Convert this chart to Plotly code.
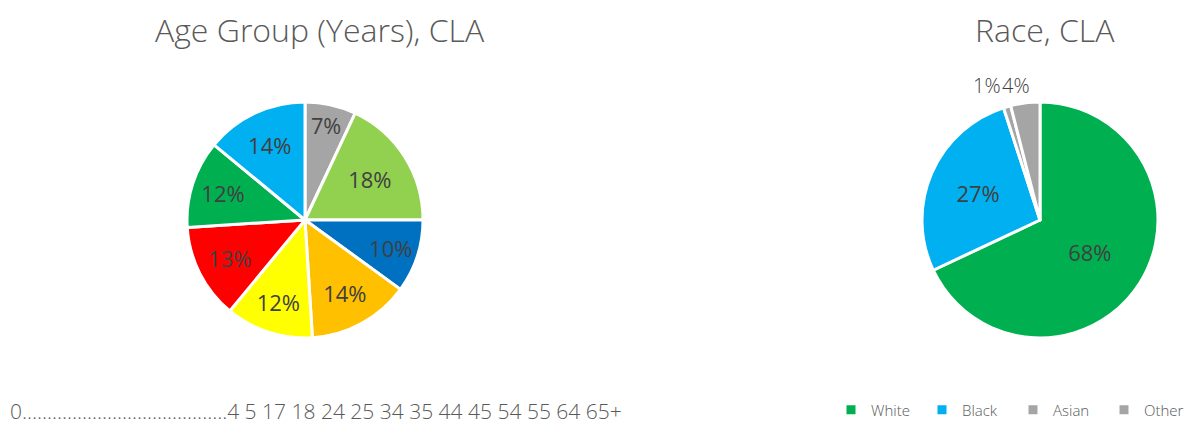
import math
import plotly.graph_objects as go

# ---- data ----
age_groups = ["0-4", "5-17", "18-24", "25-34", "35-44", "45-54", "55-64", "65+"]
age_values = [7, 18, 10, 14, 12, 13, 12, 14]
age_colors = ["#A5A5A5", "#92D050", "#0070C0", "#FFC000", "#FFFF00", "#FF0000", "#00B050", "#00B0F0"]
age_legend_text = "0" + "." * 41 + "4 5 17 18 24 25 34 35 44 45 54 55 64 65+"

race_groups = ["White", "Black", "Asian", "Other"]
race_values = [68, 27, 1, 4]
race_colors = ["#00B050", "#00B0F0", "#A5A5A5", "#A5A5A5"]
race_small = [False, False, True, True]   # labels drawn above the pie

title_age = "Age Group (Years), CLA"
title_race = "Race, CLA"

W, H = 1199, 424
OX, OY = 8, 8          # page body margin of the html page
FONT = "Open Sans"
TXT = "#404040"
TITLE_C = "#595959"
R = 118


def px_x(x):           # page x -> paper fraction
    return (x - OX) / W


def px_y(y):           # page y (from top) -> paper fraction
    return 1 - (y - OY) / H


AGE_C = (305, 220)     # page pixel centre
RACE_C = (1040, 220)


def dom(c):
    return dict(x=[px_x(c[0] - R), px_x(c[0] + R)], y=[px_y(c[1] + R), px_y(c[1] - R)])


fig = go.Figure()

fig.add_trace(go.Pie(
    labels=age_groups, values=age_values,
    marker=dict(colors=age_colors, line=dict(color="white", width=3)),
    sort=False, direction="clockwise", rotation=0,
    texttemplate="%{percent:.0%}",
    textposition="inside", insidetextorientation="horizontal",
    insidetextfont=dict(family=FONT, size=22, color=TXT),
    domain=dom(AGE_C),
    showlegend=False, hoverinfo="label+percent",
))

race_total = sum(race_values)
race_tt = ["" if s else "%{percent:.0%}" for s in race_small]

fig.add_trace(go.Pie(
    labels=race_groups, values=race_values,
    marker=dict(colors=race_colors, line=dict(color="white", width=3)),
    sort=False, direction="clockwise", rotation=0,
    texttemplate=race_tt,
    textposition="inside", insidetextorientation="horizontal",
    insidetextfont=dict(family=FONT, size=22, color=TXT),
    domain=dom(RACE_C),
    showlegend=True, hoverinfo="label+percent",
))

annotations = [
    dict(text=title_age, x=px_x(320), y=px_y(29), xref="paper", yref="paper",
         showarrow=False, xanchor="center", yanchor="middle",
         font=dict(family=FONT, size=32, color=TITLE_C, weight=300)),
    dict(text=title_race, x=px_x(1045), y=px_y(29), xref="paper", yref="paper",
         showarrow=False, xanchor="center", yanchor="middle",
         font=dict(family=FONT, size=32, color=TITLE_C, weight=300)),
    dict(text=age_legend_text, x=px_x(8), y=px_y(411), xref="paper", yref="paper",
         showarrow=False, xanchor="left", yanchor="middle",
         font=dict(family=FONT, size=21, color=TITLE_C, weight=300)),
]

# outside-end labels of the thin race slices, placed from their slice angles
cum = 0
for v, small in zip(race_values, race_small):
    mid = (cum + v / 2) / race_total * 2 * math.pi
    cum += v
    if not small:
        continue
    lx = RACE_C[0] + 1.6 * R * math.sin(mid)
    ly = RACE_C[1] - 1.14 * R
    annotations.append(dict(
        text=f"{round(v / race_total * 100)}%", x=px_x(lx), y=px_y(ly),
        xref="paper", yref="paper", showarrow=False,
        xanchor="center", yanchor="middle",
        font=dict(family=FONT, size=20, color=TXT, weight=300)))

fig.update_layout(
    width=W, height=H,
    margin=dict(l=0, r=0, t=0, b=0, autoexpand=False),
    paper_bgcolor="white", plot_bgcolor="white",
    font=dict(family=FONT, color=TITLE_C),
    legend=dict(orientation="h", x=px_x(831), y=px_y(410), xanchor="left", yanchor="middle",
                entrywidth=46, entrywidthmode="pixels",
                font=dict(family=FONT, size=15, color=TITLE_C, weight=300),
                itemwidth=30, bgcolor="rgba(0,0,0,0)"),
    annotations=annotations,
)

fig.write_html("out.html")
